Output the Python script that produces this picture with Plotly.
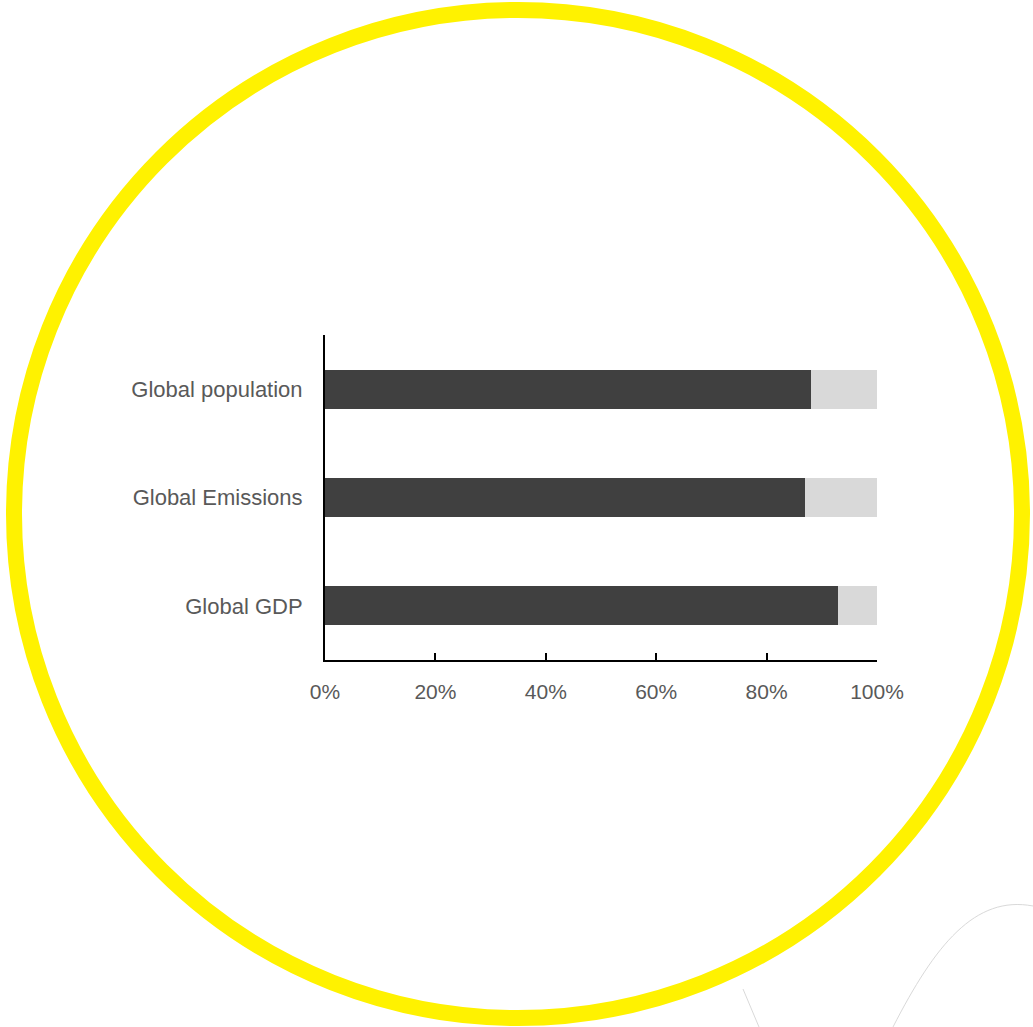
import plotly.graph_objects as go

# Share of the world total (%), bottom-to-top order on the y axis
categories = ["Global GDP", "Global Emissions", "Global population"]
share_in = [93, 87, 88]
share_rest = [7, 13, 12]
x_tick_vals = [0, 20, 40, 60, 80, 100]
x_tick_text = ["0%", "20%", "40%", "60%", "80%", "100%"]

W, H = 1033, 1027
M_L, M_R, M_T, M_B = 325, 156, 335, 367
PW, PH = W - M_L - M_R, H - M_T - M_B


def px_x(v):
    """Pixel x -> paper x."""
    return (v - M_L) / PW


def px_y(v):
    """Pixel y (from top) -> paper y."""
    return (H - M_B - v) / PH


fig = go.Figure()
fig.add_trace(go.Bar(
    y=categories, x=share_in, orientation="h",
    marker=dict(color="#404040", line=dict(width=0)),
    hoverinfo="x+y", showlegend=False,
))
fig.add_trace(go.Bar(
    y=categories, x=share_rest, orientation="h",
    marker=dict(color="#D9D9D9", line=dict(width=0)),
    hoverinfo="x+y", showlegend=False,
))

shapes = [
    # yellow ring framing the chart
    dict(type="circle", xref="paper", yref="paper",
         x0=px_x(14), x1=px_x(1022), y0=px_y(1018), y1=px_y(10),
         line=dict(color="#FFF200", width=16), fillcolor="rgba(0,0,0,0)",
         layer="below"),
    # thin grey decorative strokes in the lower-right corner
    dict(type="line", xref="paper", yref="paper",
         x0=px_x(743), y0=px_y(989), x1=px_x(759), y1=px_y(1027),
         line=dict(color="#D9D9D9", width=1)),
    dict(type="path", xref="paper", yref="paper",
         path="M {:.5f} {:.5f} C {:.5f} {:.5f}, {:.5f} {:.5f}, {:.5f} {:.5f}".format(
             px_x(893), px_y(1027), px_x(935), px_y(945),
             px_x(975), px_y(895), px_x(1033), px_y(906)),
         line=dict(color="#D9D9D9", width=1)),
]

fig.update_layout(
    width=W, height=H,
    margin=dict(l=M_L, r=M_R, t=M_T, b=M_B, pad=0),
    paper_bgcolor="white", plot_bgcolor="white",
    barmode="stack", bargap=0.64,
    font=dict(family="Liberation Sans, Arial, sans-serif", size=21, color="#595959"),
    shapes=shapes,
    xaxis=dict(
        range=[0, 100], tickvals=x_tick_vals, ticktext=x_tick_text,
        showgrid=False, zeroline=False,
        showline=True, linecolor="black", linewidth=2,
        ticks="inside", ticklen=7, tickwidth=2, tickcolor="black",
        ticklabelstandoff=12, fixedrange=True,
        tickfont=dict(size=21),
    ),
    yaxis=dict(
        range=[-0.5, 2.5], showgrid=False, zeroline=False,
        showline=True, linecolor="black", linewidth=2,
        ticks="", ticklabelstandoff=16, fixedrange=True,
        tickfont=dict(size=22),
    ),
)

fig.write_html("out.html")
